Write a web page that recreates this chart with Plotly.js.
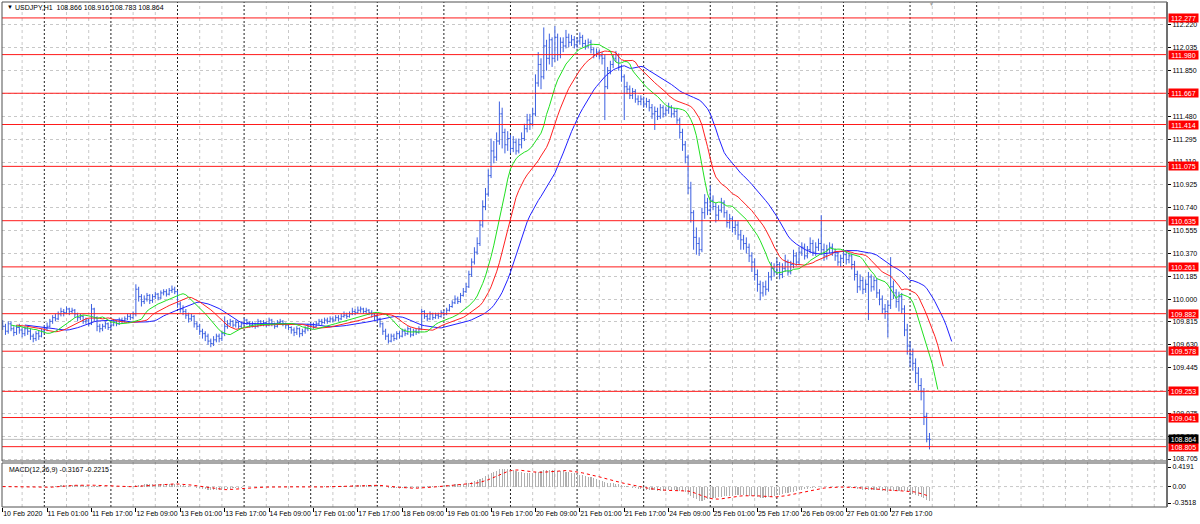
<!DOCTYPE html>
<html>
<head>
<meta charset="utf-8">
<script src="https://cdn.plot.ly/plotly-3.0.1.min.js"></script>
<style>html,body{margin:0;padding:0;background:#fff;}#chart{width:1200px;height:524px;}</style>
</head>
<body>
<div id="chart"></div>
<script>
// ---------------- DATA ----------------
const symbolName = "USDJPY,H1";
const firstOpen = 109.80;
const closes = [
109.78,109.74,109.80,109.76,109.73,109.77,109.75,109.72,109.76,109.74,
109.70,109.68,109.72,109.70,109.74,109.76,109.78,109.82,109.85,109.84,
109.88,109.90,109.89,109.92,109.90,109.91,109.88,109.85,109.86,109.82,
109.83,109.80,109.92,109.85,109.78,109.76,109.78,109.80,109.77,109.79,
109.82,109.80,109.83,109.82,109.84,109.86,109.85,109.88,110.08,110.02,
109.98,110.00,110.03,109.99,110.02,110.04,110.01,110.05,110.06,110.04,
110.07,110.08,110.06,109.96,109.92,109.90,109.87,109.84,109.86,109.80,
109.78,109.74,109.72,109.70,109.66,109.64,109.67,109.70,109.68,109.72,
109.78,109.80,109.82,109.79,109.81,109.78,109.80,109.83,109.81,109.79,
109.80,109.78,109.82,109.80,109.81,109.79,109.83,109.80,109.78,109.81,
109.82,109.80,109.79,109.77,109.75,109.73,109.76,109.72,109.74,109.76,
109.78,109.79,109.78,109.80,109.82,109.81,109.83,109.82,109.84,109.83,
109.85,109.84,109.86,109.87,109.86,109.88,109.90,109.89,109.91,109.92,
109.90,109.91,109.89,109.88,109.86,109.84,109.80,109.74,109.70,109.66,
109.70,109.68,109.72,109.70,109.74,109.72,109.76,109.71,109.74,109.73,
109.76,109.90,109.86,109.84,109.88,109.85,109.87,109.86,109.89,109.88,
109.91,109.94,109.97,110.00,109.98,110.03,110.06,110.10,110.20,110.30,
110.38,110.45,110.60,110.75,110.85,111.00,111.20,111.15,111.28,111.50,
111.35,111.25,111.30,111.22,111.27,111.20,111.25,111.30,111.38,111.45,
111.42,111.50,111.75,111.90,111.80,112.05,111.95,112.10,111.95,112.12,
111.98,112.08,112.05,112.12,112.08,112.10,112.06,112.09,112.12,112.07,
112.05,112.08,112.02,111.98,112.00,111.97,111.95,111.72,111.85,111.90,
111.95,111.98,111.88,111.80,111.72,111.70,111.65,111.68,111.62,111.60,
111.62,111.58,111.60,111.55,111.50,111.52,111.48,111.55,111.50,111.53,
111.55,111.50,111.52,111.45,111.35,111.25,111.15,110.90,110.70,110.50,
110.45,110.40,110.70,110.78,110.72,110.80,110.75,110.68,110.72,110.78,
110.70,110.62,110.65,110.58,110.60,110.52,110.48,110.45,110.42,110.35,
110.30,110.20,110.12,110.05,110.10,110.08,110.18,110.25,110.22,110.28,
110.20,110.25,110.30,110.22,110.28,110.35,110.30,110.38,110.42,110.35,
110.40,110.45,110.38,110.42,110.45,110.40,110.35,110.40,110.42,110.38,
110.35,110.30,110.33,110.36,110.32,110.35,110.28,110.20,110.10,110.15,
110.08,110.12,110.18,110.10,110.15,110.05,110.00,109.92,109.90,109.95,
110.10,110.05,109.98,110.02,109.92,109.75,109.62,109.55,109.48,109.40,
109.30,109.25,109.05,108.866,108.864
];
const highs = [
109.83,109.80,109.82,109.82,109.78,109.79,109.80,109.77,109.78,109.78,
109.76,109.72,109.74,109.75,109.76,109.79,109.81,109.84,109.87,109.88,
109.90,109.93,109.92,109.94,109.93,109.93,109.92,109.89,109.88,109.87,
109.85,109.84,109.96,109.93,109.86,109.80,109.80,109.82,109.81,109.81,
109.84,109.83,109.85,109.85,109.86,109.88,109.88,109.90,110.12,110.10,
110.04,110.03,110.05,110.04,110.04,110.06,110.05,110.07,110.08,110.08,
110.09,110.11,110.10,110.07,109.98,109.95,109.92,109.89,109.88,109.87,
109.82,109.80,109.76,109.74,109.72,109.68,109.70,109.72,109.72,109.74,
109.86,109.83,109.84,109.83,109.83,109.82,109.82,109.85,109.84,109.82,
109.82,109.81,109.84,109.83,109.83,109.82,109.85,109.84,109.81,109.83,
109.84,109.83,109.81,109.80,109.78,109.77,109.78,109.77,109.76,109.78,
109.80,109.81,109.81,109.82,109.84,109.84,109.85,109.85,109.86,109.86,
109.87,109.87,109.88,109.90,109.89,109.90,109.93,109.92,109.94,109.94,
109.93,109.93,109.92,109.91,109.89,109.88,109.85,109.81,109.76,109.72,
109.72,109.72,109.74,109.74,109.76,109.76,109.78,109.77,109.76,109.76,
109.78,109.92,109.91,109.88,109.90,109.89,109.89,109.89,109.91,109.91,
109.93,109.96,109.99,110.03,110.02,110.05,110.09,110.13,110.23,110.33,
110.42,110.50,110.64,110.80,110.90,111.05,111.30,111.28,111.35,111.60,
111.55,111.38,111.36,111.33,111.32,111.30,111.30,111.35,111.42,111.50,
111.50,111.55,111.82,112.00,111.95,112.20,112.10,112.15,112.12,112.21,
112.15,112.12,112.12,112.18,112.15,112.14,112.13,112.12,112.16,112.14,
112.10,112.11,112.10,112.04,112.03,112.02,112.00,111.98,111.88,111.93,
111.98,112.01,111.99,111.90,111.82,111.76,111.73,111.71,111.70,111.65,
111.65,111.64,111.63,111.62,111.58,111.56,111.55,111.58,111.57,111.56,
111.59,111.57,111.55,111.54,111.47,111.38,111.28,111.17,110.95,110.72,
110.58,110.50,110.74,110.85,110.82,110.92,110.84,110.78,110.76,110.82,
110.80,110.72,110.69,110.67,110.64,110.63,110.56,110.52,110.50,110.45,
110.38,110.33,110.24,110.15,110.14,110.15,110.22,110.30,110.29,110.33,
110.30,110.29,110.36,110.32,110.31,110.40,110.38,110.42,110.46,110.45,
110.43,110.50,110.48,110.46,110.49,110.68,110.45,110.44,110.46,110.45,
110.41,110.38,110.36,110.40,110.39,110.38,110.37,110.31,110.23,110.20,
110.18,110.16,110.22,110.20,110.18,110.17,110.08,110.03,109.96,109.99,
110.34,110.15,110.08,110.06,110.05,109.95,109.80,109.66,109.60,109.52,
109.45,109.36,109.28,109.08,108.916
];
const lows = [
109.75,109.71,109.72,109.74,109.70,109.71,109.72,109.69,109.70,109.71,
109.67,109.65,109.66,109.67,109.69,109.72,109.74,109.77,109.80,109.82,
109.83,109.86,109.86,109.88,109.87,109.88,109.85,109.82,109.83,109.80,
109.80,109.78,109.79,109.82,109.74,109.73,109.74,109.76,109.75,109.75,
109.78,109.78,109.79,109.80,109.81,109.83,109.83,109.84,109.86,109.98,
109.94,109.96,109.98,109.96,109.97,110.00,109.99,110.00,110.03,110.02,
110.03,110.05,110.04,109.93,109.89,109.87,109.84,109.81,109.82,109.77,
109.75,109.71,109.68,109.66,109.63,109.61,109.62,109.65,109.65,109.66,
109.70,109.76,109.78,109.77,109.77,109.76,109.76,109.79,109.79,109.77,
109.77,109.76,109.77,109.78,109.78,109.77,109.78,109.78,109.76,109.77,
109.79,109.78,109.76,109.75,109.72,109.70,109.71,109.69,109.70,109.72,
109.74,109.76,109.76,109.77,109.79,109.79,109.80,109.80,109.81,109.81,
109.82,109.82,109.83,109.85,109.84,109.85,109.87,109.87,109.88,109.89,
109.88,109.88,109.87,109.85,109.83,109.81,109.77,109.71,109.67,109.64,
109.65,109.66,109.67,109.68,109.69,109.70,109.71,109.69,109.70,109.71,
109.72,109.75,109.84,109.82,109.83,109.83,109.84,109.84,109.85,109.86,
109.87,109.90,109.93,109.96,109.96,109.97,110.02,110.05,110.09,110.18,
110.28,110.36,110.43,110.58,110.72,110.83,110.98,111.10,111.12,111.25,
111.22,111.18,111.20,111.18,111.19,111.17,111.18,111.22,111.28,111.35,
111.37,111.40,111.48,111.72,111.70,111.78,111.85,111.90,111.88,111.92,
111.93,111.95,112.00,112.03,112.04,112.05,112.03,112.03,112.06,112.04,
112.02,112.03,111.99,111.95,111.96,111.94,111.90,111.45,111.70,111.82,
111.87,111.92,111.85,111.76,111.45,111.66,111.62,111.62,111.59,111.57,
111.57,111.55,111.55,111.52,111.46,111.37,111.45,111.46,111.47,111.48,
111.50,111.47,111.47,111.42,111.30,111.20,111.10,110.85,110.62,110.40,
110.36,110.35,110.38,110.65,110.68,110.70,110.72,110.62,110.64,110.70,
110.66,110.58,110.57,110.54,110.52,110.48,110.40,110.40,110.37,110.30,
110.22,110.15,110.06,109.99,110.02,110.03,110.06,110.15,110.18,110.20,
110.16,110.17,110.22,110.19,110.20,110.25,110.27,110.28,110.35,110.32,
110.33,110.37,110.35,110.35,110.39,110.36,110.31,110.32,110.37,110.35,
110.31,110.27,110.26,110.30,110.28,110.29,110.24,110.15,110.05,110.07,
110.04,110.05,109.83,110.06,110.07,110.01,109.95,109.88,109.84,109.69,
109.92,110.00,109.93,109.90,109.88,109.70,109.55,109.45,109.42,109.32,
109.26,109.18,108.98,108.84,108.783
];
const levelLines = [112.277,111.980,111.667,111.414,111.075,110.635,110.261,109.882,109.578,109.253,109.041,108.805];
const lastPrice = 108.864;
const priceTicks = [108.705,108.890,109.075,109.260,109.445,109.630,109.815,110.000,110.185,110.370,110.555,110.740,110.925,111.110,111.295,111.480,111.665,111.850,112.035,112.220];
const xTickIdx = [0,16,32,48,64,80,96,112,128,144,160,176,192,208,224,240,256,272,288,304,320];
const xTickText = ["10 Feb 2020","11 Feb 01:00","11 Feb 17:00","12 Feb 09:00","13 Feb 01:00","13 Feb 17:00","14 Feb 09:00","17 Feb 01:00","17 Feb 17:00","18 Feb 09:00","19 Feb 01:00","19 Feb 17:00","20 Feb 09:00","21 Feb 01:00","21 Feb 17:00","24 Feb 09:00","25 Feb 01:00","25 Feb 17:00","26 Feb 09:00","27 Feb 01:00","27 Feb 17:00"];
const macdTicks = [0.4191, 0.00, -0.3518];
const macdTickText = ["0.4191","0.00","-0.3518"];
const macdLabelMain = -0.3167, macdLabelSignal = -0.2215;

// ---------------- derived series ----------------
const n = closes.length;
const idx = closes.map((_, i) => i);
const opens = closes.map((c, i) => i === 0 ? firstOpen : closes[i - 1]);
const median = highs.map((h, i) => (h + lows[i]) / 2);
function smma(src, p) { const o = []; let v = src[0]; for (let i = 0; i < src.length; i++) { v = i === 0 ? src[0] : (v * (p - 1) + src[i]) / p; o.push(v); } return o; }
function ema(src, p) { const k = 2 / (p + 1); const o = []; let e = src[0]; for (let i = 0; i < src.length; i++) { e = i === 0 ? src[0] : src[i] * k + e * (1 - k); o.push(e); } return o; }
const jaw = smma(median, 13), teeth = smma(median, 8), lips = smma(median, 5);
const e12 = ema(closes, 12), e26 = ema(closes, 26);
const macd = e12.map((v, i) => v - e26[i]);
const signal = macd.map((_, i) => { const a = Math.max(0, i - 8); let s = 0; for (let k = a; k <= i; k++) s += macd[k]; return s / (i - a + 1); });

const FONT = "Liberation Sans, Arial, sans-serif";
const traces = [
  {type:'ohlc', x: idx, open: opens, high: highs, low: lows, close: closes, xaxis:'x', yaxis:'y',
   increasing:{line:{color:'#3b5fe0', width:1}}, decreasing:{line:{color:'#3b5fe0', width:1}}, tickwidth:0.45, hoverinfo:'skip'},
  {type:'scatter', mode:'lines', x: idx.map(i => i + 8), y: jaw, line:{color:'#2020ff', width:1}, xaxis:'x', yaxis:'y', hoverinfo:'skip'},
  {type:'scatter', mode:'lines', x: idx.map(i => i + 5), y: teeth, line:{color:'#ff2020', width:1}, xaxis:'x', yaxis:'y', hoverinfo:'skip'},
  {type:'scatter', mode:'lines', x: idx.map(i => i + 3), y: lips, line:{color:'#20e020', width:1}, xaxis:'x', yaxis:'y', hoverinfo:'skip'},
  {type:'bar', x: idx, y: macd, width:0.4, marker:{color:'#b0b0b0', line:{width:0}}, xaxis:'x', yaxis:'y2', hoverinfo:'skip'},
  {type:'scatter', mode:'lines', x: idx, y: signal, line:{color:'#ff0000', width:1, dash:'dot'}, xaxis:'x', yaxis:'y2', hoverinfo:'skip'}
];

const shapes = [];
for (let g = -1; g <= 419; g += 8) {
  if ((g - 15) % 24 === 0 && g <= 351) continue;
  shapes.push({type:'line', xref:'x', yref:'paper', x0:g, x1:g, y0:0, y1:1, line:{color:'#c8c8c8', width:1, dash:'3px,3px'}, layer:'below'});
}
for (let s = 15; s <= 351; s += 24) {
  shapes.push({type:'line', xref:'x', yref:'paper', x0:s, x1:s, y0:0, y1:1, line:{color:'#202020', width:1, dash:'2px,2px'}, layer:'below'});
}
shapes.push({type:'line', xref:'paper', yref:'y', x0:0, x1:1, y0:lastPrice, y1:lastPrice, line:{color:'#c0c0c0', width:1}, layer:'below'});
shapes.push({type:'line', xref:'paper', yref:'y2', x0:0, x1:1, y0:0, y1:0, line:{color:'#c8c8c8', width:1, dash:'3px,3px'}, layer:'below'});
levelLines.forEach(v => shapes.push({type:'line', xref:'paper', yref:'y', x0:0, x1:1, y0:v, y1:v, line:{color:'#ff1a1a', width:1}, layer:'above'}));
shapes.push({type:'rect', xref:'paper', yref:'y domain', x0:0, x1:1, y0:0, y1:1, line:{color:'#505050', width:1}});
shapes.push({type:'rect', xref:'paper', yref:'y2 domain', x0:0, x1:1, y0:0, y1:1, line:{color:'#505050', width:1}});
shapes.push({type:'line', xref:'paper', yref:'paper', x0:1, x1:1, y0:0, y1:1, line:{color:'#707070', width:2}});

const annotations = [];
levelLines.forEach(v => annotations.push({xref:'paper', yref:'y', x:1, xshift:1, xanchor:'left', y:v, yanchor:'middle', text:v.toFixed(3), showarrow:false,
  bgcolor:'#ff0000', font:{family:FONT, size:7, color:'#ffffff'}, borderpad:0, width:29, height:8, align:'center'}));
annotations.push({xref:'paper', yref:'y', x:1, xshift:1, xanchor:'left', y:lastPrice, yanchor:'middle', text:lastPrice.toFixed(3), showarrow:false,
  bgcolor:'#000000', font:{family:FONT, size:7, color:'#ffffff'}, borderpad:0, width:29, height:8, align:'center'});
annotations.push({xref:'paper', yref:'paper', x:0.0026, y:0.990, xanchor:'left', yanchor:'middle', text:'▼', showarrow:false, font:{family:FONT, size:6, color:'#000'}});
annotations.push({xref:'paper', yref:'paper', x:0.0094, y:0.990, xanchor:'left', yanchor:'middle', showarrow:false, font:{family:FONT, size:7, color:'#000'},
  text: symbolName + '  ' + opens[n-1].toFixed(3) + ' ' + highs[n-1].toFixed(3) + ' ' + lows[n-1].toFixed(3) + ' ' + closes[n-1].toFixed(3)});
annotations.push({xref:'paper', yref:'paper', x:0.0043, y:0.0733, xanchor:'left', yanchor:'middle', showarrow:false, font:{family:FONT, size:7, color:'#000'},
  text:'MACD(12,26,9) ' + macdLabelMain.toFixed(4) + ' ' + macdLabelSignal.toFixed(4)});
annotations.push({xref:'paper', yref:'paper', x:0.798, y:0.997, xanchor:'center', yanchor:'middle', showarrow:false, text:'▼', font:{family:FONT, size:5, color:'#a0a0a0'}});

const layout = {
  width:1200, height:524, margin:{l:2, r:33, t:2, b:17}, paper_bgcolor:'#ffffff', plot_bgcolor:'#ffffff',
  showlegend:false, font:{family:FONT, size:7, color:'#000'}, bargap:0,
  xaxis:{range:[-0.25, 419.6], anchor:'y2', tickmode:'array', tickvals:xTickIdx, ticktext:xTickText, ticklabelposition:'outside right',
    tickangle:0, ticks:'outside', ticklen:4, tickcolor:'#000', tickfont:{family:FONT, size:7, color:'#000'}, showgrid:false, zeroline:false,
    rangeslider:{visible:false}, showline:false, fixedrange:true},
  yaxis:{domain:[0.0911, 1], range:[108.689, 112.406], side:'right', anchor:'x', tickmode:'array', tickvals:priceTicks,
    ticktext:priceTicks.map(v => v.toFixed(3)), ticks:'outside', ticklen:3, tickcolor:'#000', tickfont:{family:FONT, size:7, color:'#000'},
    showgrid:true, gridcolor:'#c8c8c8', griddash:'3px,3px', zeroline:false, showline:false, fixedrange:true},
  yaxis2:{domain:[0, 0.0871], range:[-0.4374, 0.5047], side:'right', anchor:'x', tickmode:'array', tickvals:macdTicks, ticktext:macdTickText,
    ticks:'outside', ticklen:3, tickcolor:'#000', tickfont:{family:FONT, size:7, color:'#000'}, showgrid:false, zeroline:false, showline:false, fixedrange:true},
  shapes: shapes, annotations: annotations
};
Plotly.newPlot('chart', traces, layout, {staticPlot:true, displayModeBar:false});
</script>
</body>
</html>
